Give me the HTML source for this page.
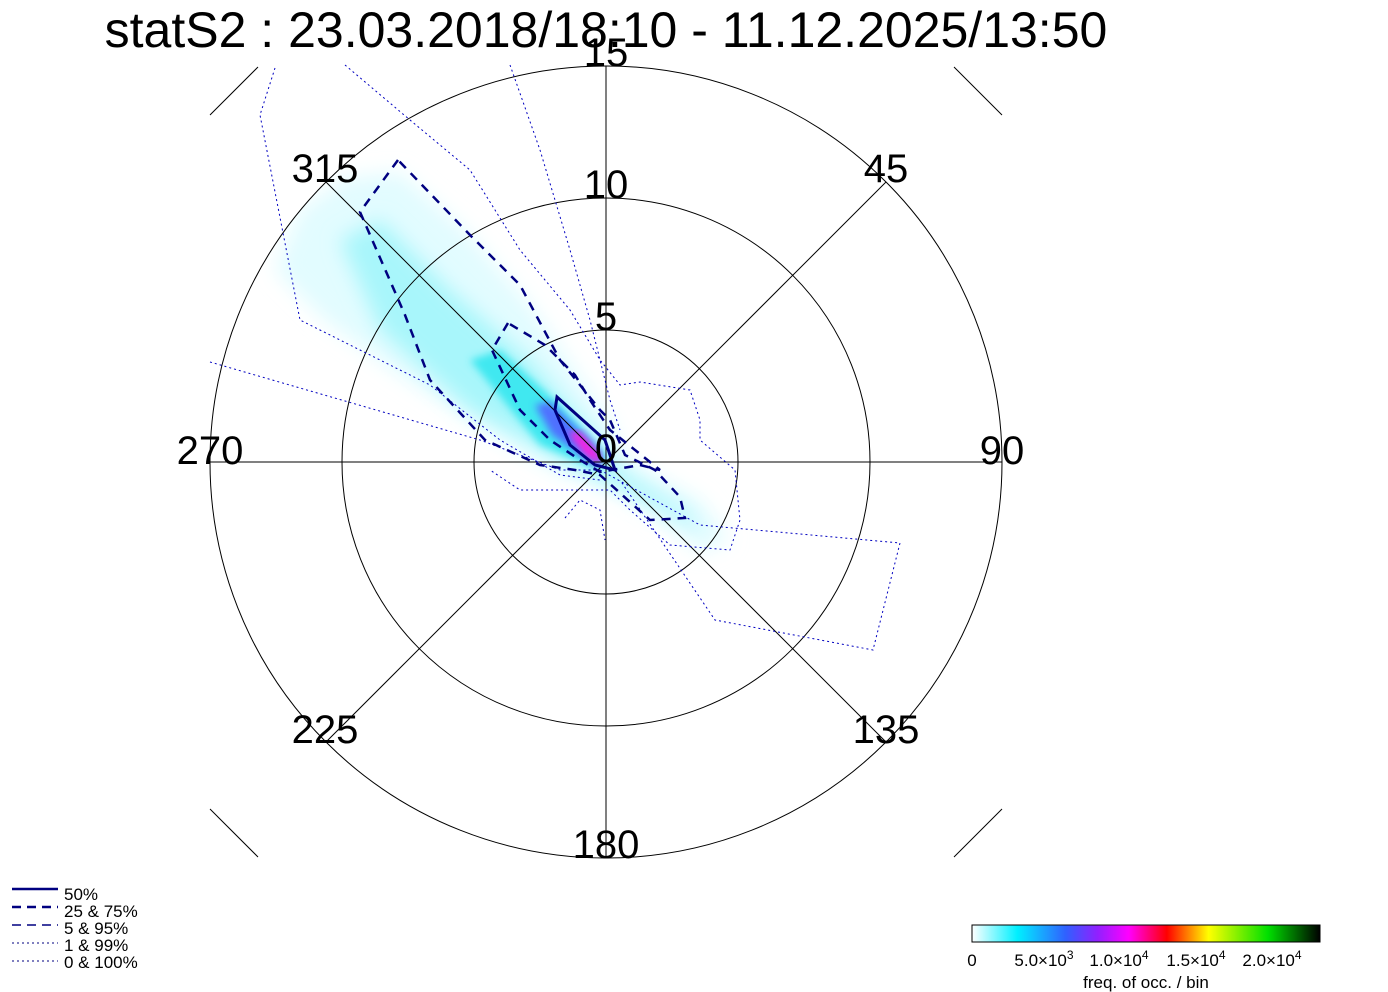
<!DOCTYPE html>
<html><head><meta charset="utf-8"><style>
body{margin:0;background:#fff;}
svg{display:block;font-family:"Liberation Sans",sans-serif;}
</style></head><body>
<svg width="1388" height="992" viewBox="0 0 1388 992">
<defs>
<linearGradient id="cb" x1="0" x2="1" y1="0" y2="0">
<stop offset="0" stop-color="#fff"/><stop offset="0.13" stop-color="#00f0ff"/>
<stop offset="0.27" stop-color="#3060ff"/><stop offset="0.36" stop-color="#9020ff"/>
<stop offset="0.45" stop-color="#ff00ff"/><stop offset="0.56" stop-color="#ff0000"/>
<stop offset="0.68" stop-color="#ffff00"/><stop offset="0.85" stop-color="#00e000"/>
<stop offset="1" stop-color="#000"/></linearGradient>
<filter id="bl"><feGaussianBlur stdDeviation="10"/></filter>
<filter id="bl2"><feGaussianBlur stdDeviation="4"/></filter>
<clipPath id="cc"><circle cx="606" cy="462" r="396"/></clipPath>
</defs>
<text x="606" y="47" font-size="50" text-anchor="middle">statS2 : 23.03.2018/18:10 - 11.12.2025/13:50</text>
<g clip-path="url(#cc)">
<polygon filter="url(#bl)" fill="#e2fcff" points="275,270 300,210 345,178 400,172 470,235 530,305 575,370 612,425 625,460 700,500 730,540 700,552 620,485 560,472 480,425 400,375 325,320"/>
<polygon filter="url(#bl)" fill="#a8f6fb" points="340,240 380,220 450,290 530,360 590,430 620,470 690,515 700,530 640,500 560,460 470,410 380,330"/>
<polygon filter="url(#bl2)" fill="#40e8f0" points="470,360 500,350 560,405 605,455 600,470 540,445"/>
<polygon filter="url(#bl2)" fill="#5070ff" points="535,405 550,402 590,440 605,460 595,465 552,435"/>
<polygon filter="url(#bl2)" fill="#ff20e0" points="568,432 580,432 600,455 600,465 585,455"/>
</g>
<g fill="none" stroke="#000" stroke-width="1">
<circle cx="606" cy="462" r="132"/><circle cx="606" cy="462" r="264"/><circle cx="606" cy="462" r="396"/>
<line x1="606" y1="66" x2="606" y2="858"/><line x1="210" y1="462" x2="1002" y2="462"/>
<line x1="326" y1="182" x2="886" y2="742"/><line x1="886" y1="182" x2="326" y2="742"/>
<line x1="210" y1="115" x2="258" y2="67"/><line x1="954" y1="67" x2="1002" y2="115"/>
<line x1="210" y1="809" x2="258" y2="857"/><line x1="954" y1="857" x2="1002" y2="809"/>
</g>
<g fill="none" stroke="#0000c0" stroke-width="1" stroke-dasharray="2,3">
<polyline points="275,68 260,115 300,320 430,385 500,440 560,475 600,480"/>
<polyline points="210,362 480,440 560,470 600,470"/>
<polyline points="600,470 700,525 900,543 873,650 715,620 620,480"/>
<polyline points="345,65 410,120 470,170 520,250 570,310 600,360 620,385 640,382 690,390 700,420 700,440 735,470 740,520 730,550 670,545 630,510 610,490 575,490 520,490 490,470"/>
<polyline points="510,65 540,150 570,250 590,320 610,400 620,430"/>
<polyline points="565,518 580,500 600,510 605,540"/>
</g>
<g fill="none" stroke="#000080" stroke-width="2.5" stroke-dasharray="9,7">
<polygon points="398,160 360,212 405,315 430,380 485,440 540,465 575,470 600,475 650,520 685,518 680,497 655,470 625,455 610,420 600,410 560,360 520,285 470,235"/>
<polygon points="508,323 492,350 520,410 550,440 580,460 600,472 640,465 660,470 610,430 590,400 575,375 545,345"/>
</g>
<polygon fill="none" stroke="#000080" stroke-width="3" points="557,397 555,410 570,445 595,465 615,470 605,440"/>
<g font-size="40" text-anchor="middle">
<text x="606" y="66">15</text><text x="606" y="198">10</text><text x="606" y="330">5</text><text x="606" y="462">0</text>
<text x="325" y="182">315</text><text x="886" y="182">45</text><text x="210" y="464">270</text><text x="1002" y="464">90</text>
<text x="325" y="743">225</text><text x="886" y="743">135</text><text x="606" y="858">180</text>
</g>
<g font-size="17" stroke="#000080">
<line x1="12" y1="889" x2="58" y2="889" stroke-width="2.5"/>
<line x1="12" y1="907" x2="58" y2="907" stroke-width="2.5" stroke-dasharray="9,6"/>
<line x1="12" y1="925" x2="58" y2="925" stroke-width="1.5" stroke-dasharray="9,6"/>
<line x1="12" y1="943" x2="58" y2="943" stroke-width="1" stroke-dasharray="2,3"/>
<line x1="12" y1="961" x2="58" y2="961" stroke-width="1" stroke-dasharray="2,3"/>
<g stroke="none" fill="#000" xml:space="preserve"><text x="64" y="900">50%</text><text x="64" y="917">25 &amp;  75%</text><text x="64" y="934">  5 &amp;  95%</text><text x="64" y="951">  1 &amp;  99%</text><text x="64" y="968">  0 &amp; 100%</text></g>
</g>
<rect x="972" y="925" width="348" height="17" fill="url(#cb)" stroke="#000"/>
<g font-size="17" text-anchor="middle">
<text x="972" y="966">0</text>
<text x="1044" y="966">5.0×10<tspan dy="-7" font-size="12">3</tspan></text>
<text x="1119" y="966">1.0×10<tspan dy="-7" font-size="12">4</tspan></text>
<text x="1196" y="966">1.5×10<tspan dy="-7" font-size="12">4</tspan></text>
<text x="1272" y="966">2.0×10<tspan dy="-7" font-size="12">4</tspan></text>
<text x="1146" y="988">freq. of occ. / bin</text>
</g>
</svg>
</body></html>
